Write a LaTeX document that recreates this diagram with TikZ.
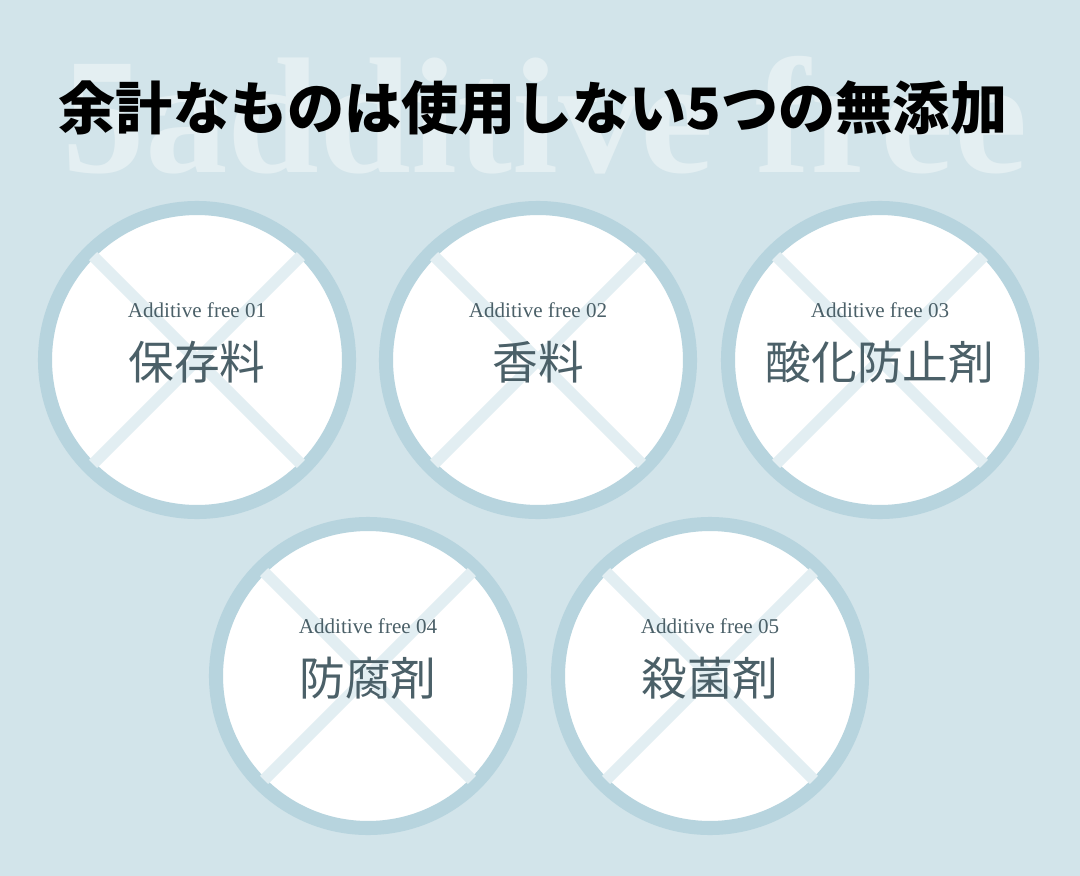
\documentclass[tikz,border=0pt]{standalone}
\usepackage{fontspec}
\setmainfont{Liberation Serif}
\newfontfamily\cjk{Noto Sans CJK JP}
\usetikzlibrary{positioning}
\definecolor{bgblue}{HTML}{D2E4EA}
\definecolor{ringblue}{HTML}{B7D4DE}
\definecolor{crossblue}{HTML}{E2EEF2}
\definecolor{inkslate}{HTML}{4B6068}
\definecolor{ghost}{HTML}{E4EFF2}
\begin{document}
\begin{tikzpicture}[x=0.02cm, y=-0.02cm,
    ring/.style={draw=ringblue, line width=8pt, fill=white},
    crossline/.style={crossblue, line width=6.5pt},
    sublabel/.style={text=inkslate, font=\fontsize{12}{13}\selectfont},
    mainlabel/.style={text=inkslate, font=\cjk\fontsize{26}{28}\selectfont}
]
    % background
    \fill[bgblue] (0,0) rectangle (1080,876);
    \useasboundingbox (0,0) rectangle (1080,876);
    \node[text=ghost, font=\bfseries\fontsize{94}{94}\selectfont, anchor=base, inner sep=0pt] (ghosttext) at (545,172) {5additive free};
    % title
    \node[font=\cjk\bfseries\fontsize{32.5}{34}\selectfont] (title) at (533,108) {余計なものは使用しない5つの無添加};
    % circles
    \foreach \cx/\cy/\num/\txt [count=\i] in {197/360/01/保存料, 538/360/02/香料, 880/360/03/酸化防止剤, 368/676/04/防腐剤, 710/676/05/殺菌剤} {
        \draw[ring] (\cx,\cy) circle (152);
        \begin{scope}
            \clip (\cx,\cy) circle (147);
            \draw[crossline] ({\cx-110},{\cy-110}) -- ({\cx+110},{\cy+110});
            \draw[crossline] ({\cx+110},{\cy-110}) -- ({\cx-110},{\cy+110});
        \end{scope}
        \node[sublabel] (sub\i) at (\cx,{\cy-50}) {Additive free \num};
        \node[mainlabel] (main\i) at (\cx,{\cy+2}) {\txt};
    }
\end{tikzpicture}
\end{document}
